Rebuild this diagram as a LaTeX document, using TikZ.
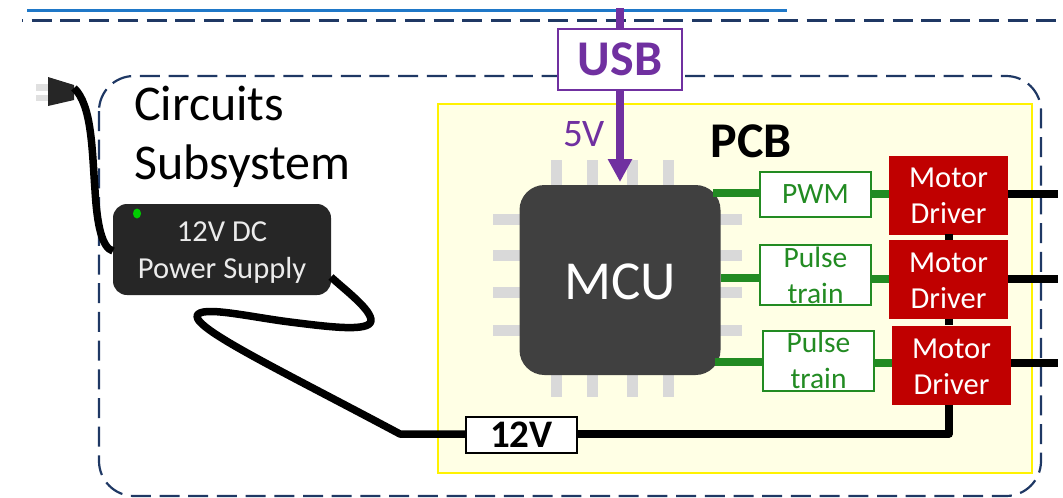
\documentclass[tikz,border=0pt]{standalone}
\usepackage{fontspec}
\setmainfont{Carlito}
\definecolor{subnavy}{HTML}{1F3864}
\definecolor{subblue}{HTML}{1F78C8}
\definecolor{usbpurple}{HTML}{7030A0}
\definecolor{pcbfill}{HTML}{FFFFE5}
\definecolor{pinggrey}{HTML}{D9D9D9}
\definecolor{mcugrey}{HTML}{404040}
\definecolor{psugrey}{HTML}{262626}
\definecolor{sigreen}{HTML}{228B22}
\definecolor{drivered}{HTML}{C00000}
\usetikzlibrary{arrows.meta, positioning}
\tikzset{
  signalbox/.style={draw=sigreen, fill=white, line width=2pt, inner sep=0pt, minimum width=111pt,
    text=sigreen, align=center, font=\fontsize{29.5}{36}\selectfont},
  driverbox/.style={fill=drivered, inner sep=0pt, minimum width=119pt, minimum height=79pt},
  driverlabel/.style={text=white, align=center, inner sep=0pt, font=\fontsize{30.5}{36}\selectfont},
  pinbar/.style={fill=pinggrey},
  signalwire/.style={draw=sigreen, line width=7.5pt},
  powerwire/.style={draw=black, line width=7.5pt, line join=round},
}
\begin{document}
\begin{tikzpicture}[x=1pt, y=-1pt]
    \useasboundingbox (0,0) rectangle (1063,498);
    % Top lines
    \draw[subblue, line width=3pt] (27,10) -- (787,10);
    \draw[subnavy, line width=3pt, dash pattern=on 20pt off 8.7pt, dash phase=19pt] (22,20.5) -- (1058,20.5);
    % Subsystem outline
    \draw[subnavy, line width=2.2pt, rounded corners=35pt, dash pattern=on 20pt off 8.7pt]
      (99,76) rectangle (1041,496);
    \node[anchor=north west, align=left, inner sep=0pt, font=\fontsize{50}{59}\selectfont]
      (sublabel) at (134,85.5) {Circuits\\Subsystem};
    % PCB
    \node[draw=yellow, fill=pcbfill, line width=2.5pt, minimum width=594pt, minimum height=369pt,
      inner sep=0pt] (pcb) at (735,288.5) {};
    \node[font=\fontsize{50}{56}\selectfont\bfseries] (pcblabel) at (751,141) {PCB};
    % MCU pins
    \foreach \px in {556,592.5,632,668.5} {
      \fill[pinbar] (\px-5.5,160) rectangle (\px+5.5,185);
      \fill[pinbar] (\px-5.5,375) rectangle (\px+5.5,397);
    }
    \foreach \py in {219,255,292,330} {
      \fill[pinbar] (493,\py-5.5) rectangle (520,\py+5.5);
      \fill[pinbar] (720,\py-5.5) rectangle (742,\py+5.5);
    }
    % Blocks
    \node[fill=mcugrey, rounded corners=25pt, minimum width=201pt, minimum height=190pt, inner sep=0pt] (mcu) at (620,280) {};
    \node[text=white, inner sep=0pt, font=\fontsize{55}{60}\selectfont] (mculabel) at (620,282) {MCU};
    \node[signalbox, minimum height=45pt] (pwm) at (815.5,194.5) {PWM};
    \node[signalbox, minimum height=60pt] (pulsea) at (815.5,275) {Pulse\\train};
    \node[signalbox, minimum height=60pt] (pulseb) at (818.5,360.5) {Pulse\\train};
    \node[driverbox] (drva) at (948.5,195) {};
    \node[driverbox] (drvb) at (948.5,279.5) {};
    \node[driverbox] (drvc) at (951.5,365) {};
    \node[driverlabel] (lbla) at (948.5,196) {Motor\\Driver};
    \node[driverlabel] (lblb) at (948.5,281) {Motor\\Driver};
    \node[driverlabel] (lblc) at (951.5,366.5) {Motor\\Driver};
    % Signal wires
    \draw[signalwire] (713,193) -- (pwm.west |- 0,193);
    \draw[signalwire] (mcu.east |- 0,278) -- (pulsea.west |- 0,278);
    \draw[signalwire] (715,362) -- (pulseb.west |- 0,362);
    \draw[signalwire] (pwm.east |- 0,194) -- (drva.west |- 0,194);
    \draw[signalwire] (pulsea.east |- 0,279) -- (drvb.west |- 0,279);
    \draw[signalwire] (pulseb.east |- 0,363) -- (drvc.west |- 0,363);
    % Motor outputs
    \coordinate (outa) at (1058,194);
    \coordinate (outb) at (1058,279);
    \coordinate (outc) at (1058,363);
    \draw[powerwire] (drva.east |- outa) -- (outa);
    \draw[powerwire] (drvb.east |- outb) -- (outb);
    \draw[powerwire] (drvc.east |- outc) -- (outc);
    \draw[powerwire] (949,234) -- (949,240);
    \draw[powerwire] (949,319) -- (949,325);
    % 12V rail
    \node[draw=black, fill=white, line width=2pt, minimum width=111pt, minimum height=36pt, inner sep=0pt,
      font=\fontsize{39}{42}\selectfont\bfseries] (rail) at (521.5,435) {12V};
    \coordinate (railbend) at (949,434);
    \draw[powerwire] (drvc.south -| railbend) -- (railbend) -- (rail.east |- railbend);
    % Power supply
    \node[fill=psugrey, rounded corners=14pt, minimum width=218pt, minimum height=91pt, inner sep=0pt] (psu) at (222,249.5) {};
    \node[text=white!92!black, align=center, inner sep=0pt, font=\fontsize{30.5}{37}\selectfont] (psulabel) at (222,252.5)
      {12V DC\\Power Supply};
    \fill[green!80!black] (137,213.5) ellipse (4pt and 5pt);
    \draw[powerwire] (331,277) .. controls (345,290) and (372,310) .. (371,321)
      .. controls (369,332) and (330,327) .. (290,322)
      .. controls (250,317) and (200,305) .. (197,316)
      .. controls (196,330) and (280,370) .. (400,434) -- (rail.west |- 0,434);
    % Plug
    \fill[psugrey] (48,77) -- (74,85) -- (74,100) -- (48,106) -- cycle;
    \fill[black!12] (36,84) rectangle (48,90.5);
    \fill[black!12] (36,95) rectangle (48,101);
    \coordinate (plugend) at (74,88);
    \draw[powerwire] (plugend) .. controls (92,105) and (92,150) .. (95,190)
      .. controls (97,225) and (102,248) .. (113,251);
    % USB
    \coordinate (usbtop) at (620,8);
    \coordinate (mcutip) at (620,182);
    \draw[usbpurple, line width=8pt] (usbtop) -- (620,40);
    \draw[usbpurple, line width=8pt, -{Triangle[length=23pt,width=23pt]}] (620,80) -- (mcutip);
    \node[draw=usbpurple, fill=white, line width=2.5pt, minimum width=124pt, minimum height=61pt, inner sep=0pt,
      text=usbpurple, font=\fontsize{50}{54}\selectfont\bfseries] (usb) at (620,59.5) {USB};
    \node[text=usbpurple, font=\fontsize{39}{44}\selectfont] (fivev) at (584,134) {5V};
  \end{tikzpicture}
\end{document}
